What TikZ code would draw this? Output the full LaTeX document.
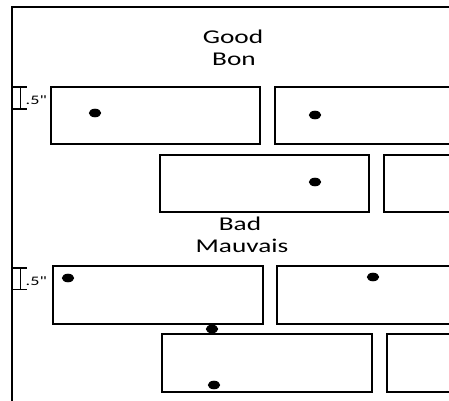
\documentclass[tikz,border=0pt]{standalone}
\usepackage{fontspec}
\setmainfont{Carlito}
\newfontfamily\measfont{Carlito}
\usepackage{graphicx}
\tikzset{
  brick/.style={draw=black, line width=2pt},
  frameline/.style={draw=black, line width=2pt},
  hole/.style={fill=black},
  beam/.style={draw=black, line width=1.4pt},
  title/.style={font=\fontsize{19.5}{22}\selectfont, anchor=base, inner sep=0pt},
  meas/.style={font=\measfont\fontsize{13}{15}\selectfont, anchor=base west, inner sep=0pt},
}
\newcommand{\wide}[1]{\scalebox{1.4}[1]{#1}}
\begin{document}
\begin{tikzpicture}[x=1pt,y=-1pt]
\useasboundingbox (0,0) rectangle (449,400);
\fill[white] (0,0) rectangle (449,400);
\begin{scope}
\clip (0,0) rectangle (449,400);
% frame
\draw[frameline] (12,402) -- (12,7) -- (455,7);
% Good
\node[title] (good) at (233,43.3) {\wide{Good}};
\node[title] (bon) at (234,65) {\wide{Bon}};
\draw[brick] (51,87) rectangle (260,144);
\draw[brick] (275,87) rectangle (470,144);
\draw[brick] (160,155) rectangle (369,212);
\draw[brick] (384,155) rectangle (470,212);
\fill[hole] (95,113) ellipse [x radius=6.2, y radius=4.3];
\fill[hole] (315,115) ellipse [x radius=6.2, y radius=4.3];
\fill[hole] (315,182) ellipse [x radius=6.2, y radius=4.3];
\draw[beam] (20.5,87) -- (20.5,109);
\draw[beam] (13,87) -- (27,87);
\draw[beam] (13,109) -- (27,109);
\node[meas] (m1) at (25.5,104) {\wide{.5"}};
% Bad
\node[title] (bad) at (240,230.5) {\wide{Bad}};
\node[title] (mauvais) at (242,252.5) {\wide{Mauvais}};
\draw[brick] (53,266) rectangle (263,324);
\draw[brick] (277,266) rectangle (470,324);
\draw[brick] (162,334) rectangle (372,392);
\draw[brick] (387,334) rectangle (470,392);
\fill[hole] (68,278) ellipse [x radius=6.2, y radius=4.3];
\fill[hole] (373,277) ellipse [x radius=6.2, y radius=4.3];
\fill[hole] (212,329) ellipse [x radius=6.2, y radius=4.3];
\fill[hole] (214,385) ellipse [x radius=6.2, y radius=4.3];
\draw[beam] (20.5,268) -- (20.5,289.5);
\draw[beam] (13,268) -- (27,268);
\draw[beam] (13,289.5) -- (27,289.5);
\node[meas] (m2) at (25.5,285) {\wide{.5"}};
\end{scope}
\end{tikzpicture}
\end{document}
